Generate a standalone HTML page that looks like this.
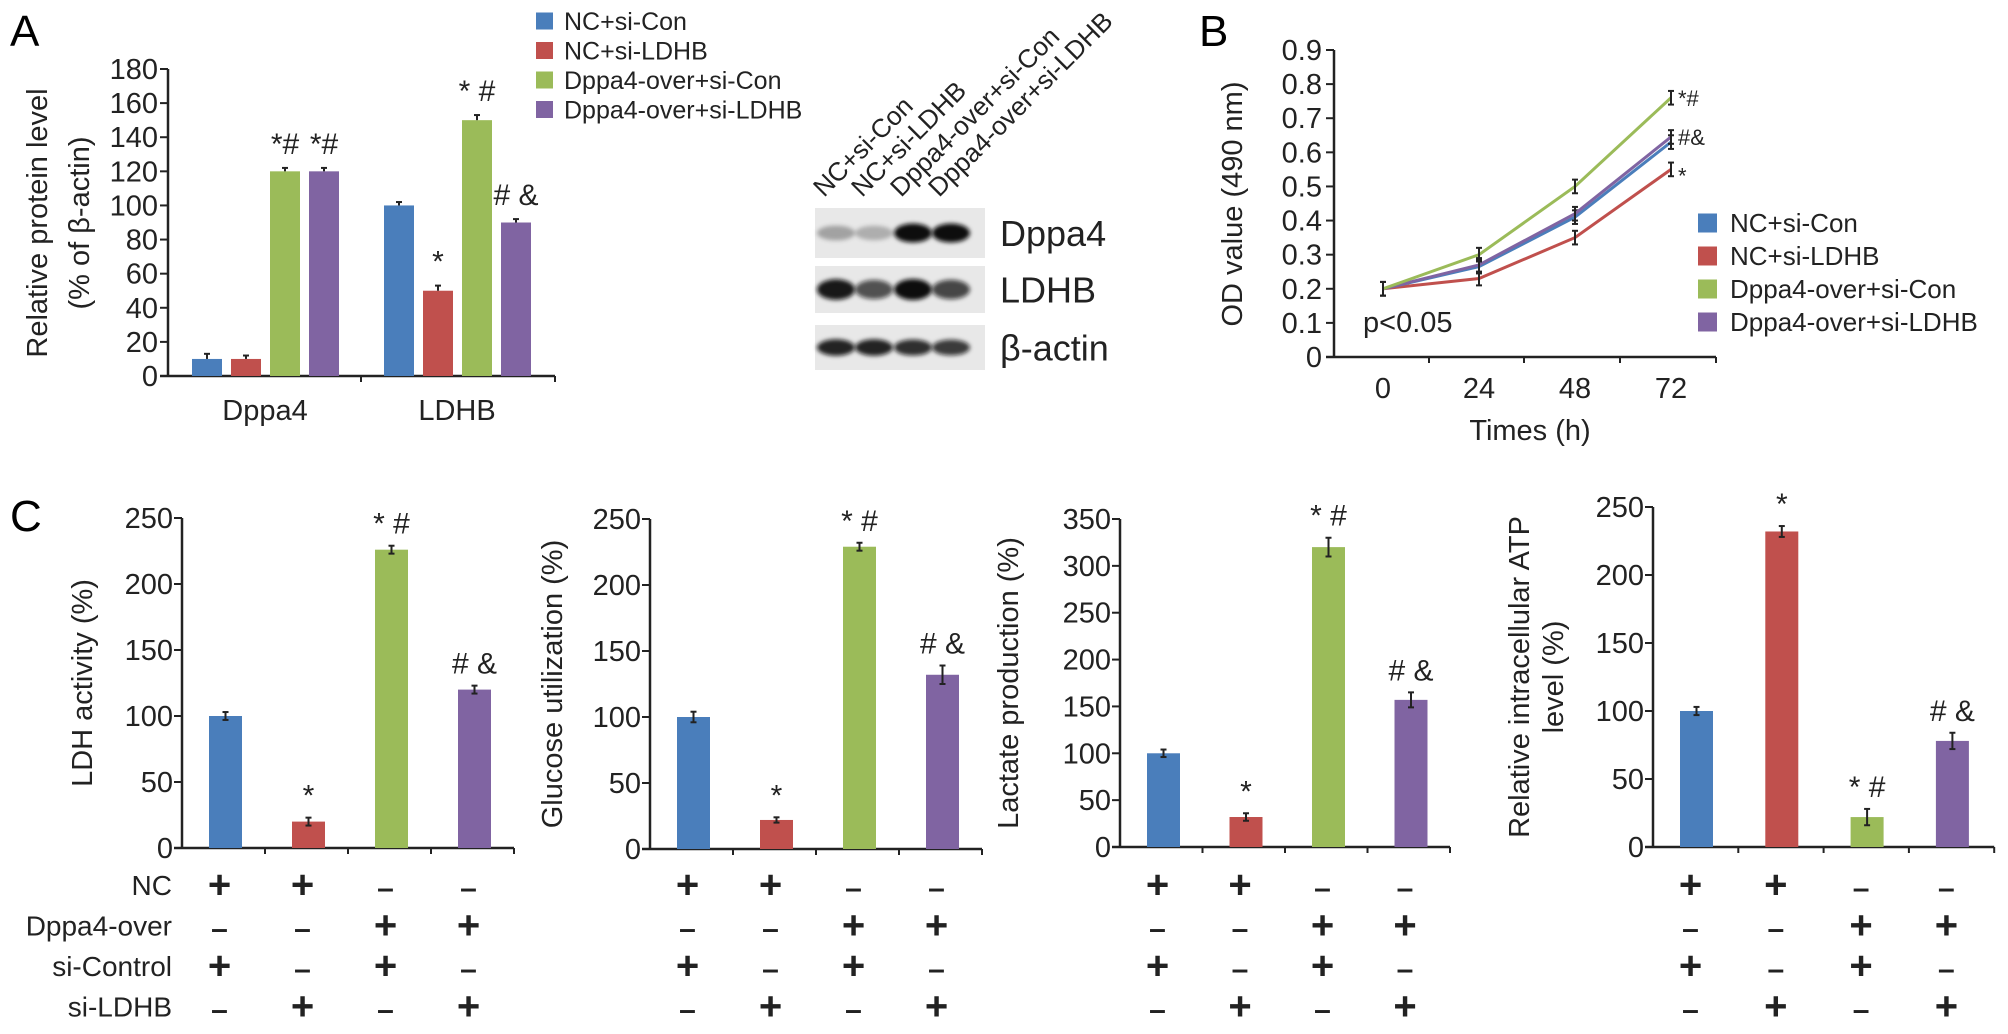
<!DOCTYPE html>
<html><head><meta charset="utf-8"><style>
html,body{margin:0;padding:0;background:#fff;}
svg{display:block;font-family:"Liberation Sans",Arial,sans-serif;}
</style></head><body>
<svg id="fig" width="2008" height="1034" viewBox="0 0 2008 1034" xmlns="http://www.w3.org/2000/svg">
<defs><filter id="blur" x="-20%" y="-50%" width="140%" height="200%"><feGaussianBlur stdDeviation="2.2"/></filter></defs>
</svg>
<script>
// ---------- DATA ----------
const colors = ["#4a7ebb","#c0504d","#9bbb59","#8064a2"];
const seriesNames = ["NC+si-Con","NC+si-LDHB","Dppa4-over+si-Con","Dppa4-over+si-LDHB"];
// Panel A
const aCategories = ["Dppa4","LDHB"];
const aDppa4 = [10,10,120,120];
const aLDHB = [100,50,150,90];
const aErrDppa4 = [3,2,2,2];
const aErrLDHB = [2,3,3,2];
const aTicks = [0,20,40,60,80,100,120,140,160,180];
const aMarksDppa4 = ["","","*#","*#"];
const aMarksLDHB = ["","*","* #","# &"];
// Panel B
const bTimes = [0,24,48,72];
const bBlue = [0.2,0.265,0.41,0.63];
const bRed = [0.2,0.23,0.35,0.55];
const bGreen = [0.2,0.30,0.50,0.76];
const bPurple = [0.2,0.27,0.42,0.645];
const bErr = [0.02,0.02,0.02,0.02];
const bTicks = [0,0.1,0.2,0.3,0.4,0.5,0.6,0.7,0.8,0.9];
const bEndMarks = ["*","*#","#&"];
// Panel C
const cLDH = [100,20,226,120];
const cLDHErr = [3,3,3,3];
const cGlucose = [100,22,229,132];
const cGlucoseErr = [4,2,3,7];
const cLactate = [100,32,320,157];
const cLactateErr = [4,4,10,8];
const cATP = [100,232,22,78];
const cATPErr = [3,4,6,6];
const cMarksLDH = ["","*","* #","# &"];
const cMarksGlucose = ["","*","* #","# &"];
const cMarksLactate = ["","*","* #","# &"];
const cMarksATP = ["","*","* #","# &"];
const cTicks250 = [0,50,100,150,200,250];
const cTicks350 = [0,50,100,150,200,250,300,350];
const rowLabels = ["NC","Dppa4-over","si-Control","si-LDHB"];
const rowSigns = [["+","+","-","-"],["-","-","+","+"],["+","-","+","-"],["-","+","-","+"]];
// Blot
const blotLanes = ["NC+si-Con","NC+si-LDHB","Dppa4-over+si-Con","Dppa4-over+si-LDHB"];
const blotProteins = ["Dppa4","LDHB","β-actin"];
const blotDppa4 = [0.3,0.25,1,1];
const blotLDHB = [0.95,0.7,1,0.75];
const blotActin = [0.9,0.9,0.85,0.8];

// ---------- HELPERS ----------
const svg = document.getElementById('fig');
const NS = "http://www.w3.org/2000/svg";
function mk(tag, attrs, parent){
  const e = document.createElementNS(NS, tag);
  for (const k in attrs) e.setAttribute(k, attrs[k]);
  (parent||svg).appendChild(e);
  return e;
}
function txt(s, attrs, parent){
  const e = mk('text', attrs, parent);
  e.textContent = s;
  return e;
}
function line(x1,y1,x2,y2,w,parent){
  return mk('line',{x1:x1,y1:y1,x2:x2,y2:y2,stroke:'#222','stroke-width':w||2},parent);
}

// ---------- PANEL A ----------
(function(){
  const g = mk('g',{});
  
  
  const lab = txt('A',{x:10,y:46,'font-size':44},g);
  
  
  const ax = 168, y0 = 376, yTop = 69, vmax = 180;
  const ys = v => y0 - v*(y0-yTop)/vmax;
  const yAxis = line(ax, yTop, ax, y0, 2.5, g);
  
  
  const xAxis = line(ax-8, y0, 555, y0, 2.5, g);
  
  
  line(361,y0,361,y0+6,2,g);
  line(555,y0,555,y0+6,2,g);
  aTicks.forEach(t=>{
    line(ax-8, ys(t), ax, ys(t), 2, g);
    const tl = txt(String(t),{x:ax-10,y:ys(t)+10,'font-size':29,'text-anchor':'end',fill:'#222'},g);
    
    
  });
  const t1 = txt('Relative protein level',{x:0,y:0,'font-size':29,'text-anchor':'middle',fill:'#222',transform:'translate(47,223) rotate(-90)'},g);
  
  
  const t2 = txt('(% of β-actin)',{x:0,y:0,'font-size':29,'text-anchor':'middle',fill:'#222',transform:'translate(89,223) rotate(-90)'},g);
  
  
  const groupStart = [192,384];
  const groups = [aDppa4, aLDHB];
  const errs = [aErrDppa4, aErrLDHB];
  const marks = [aMarksDppa4, aMarksLDHB];
  groups.forEach((vals,gi)=>{
    vals.forEach((v,i)=>{
      const x = groupStart[gi] + i*39, w = 30;
      const b = mk('rect',{x:x,y:ys(v),width:w,height:y0-ys(v),fill:colors[i]},g);
      
      
      const cx = x+w/2, e = errs[gi][i];
      line(cx, ys(v+e), cx, ys(v), 2, g);
      line(cx-3, ys(v+e), cx+3, ys(v+e), 2, g);
      if (marks[gi][i]) {
        const m = txt(marks[gi][i],{x:cx,y:ys(v+e)-14,'font-size':30,'text-anchor':'middle',fill:'#222'},g);
        
        
      }
    });
    const cl = txt(aCategories[gi],{x:groupStart[gi]+73,y:420,'font-size':29,'text-anchor':'middle',fill:'#222'},g);
    
    
  });
  seriesNames.forEach((n,i)=>{
    const cy = 21 + i*29.5;
    const sq = mk('rect',{x:536,y:cy-8.5,width:17,height:17,fill:colors[i]},g);
    
    
    const lt = txt(n,{x:564,y:cy+9,'font-size':25,fill:'#222'},g);
    
    
  });
})();

// ---------- WESTERN BLOT ----------
(function(){
  const g = mk('g',{});
  
  
  const laneX = [836,874,913,951];
  blotLanes.forEach((n,i)=>{
    const t = txt(n,{x:0,y:0,'font-size':26,fill:'#222',transform:'translate('+(laneX[i]-12)+',198) rotate(-45)'},g);
    
    
  });
  const rows = [[208,50],[266,47],[325,45]];
  const intens = [blotDppa4, blotLDHB, blotActin];
  const bandH = [13,15,11];
  rows.forEach((r,ri)=>{
    const bg = mk('rect',{x:815,y:r[0],width:170,height:r[1],fill:'#e8e8e8'},g);
    
    
    intens[ri].forEach((v,i)=>{
      const band = mk('ellipse',{cx:laneX[i],cy:r[0]+r[1]/2,rx:19,ry:bandH[ri]/2+v*3,fill:'#111','fill-opacity':Math.min(1,v),filter:'url(#blur)'},g);
      
      
    });
    const pl = txt(blotProteins[ri],{x:1000,y:r[0]+r[1]/2+13,'font-size':36,fill:'#222'},g);
    
    
  });
})();

// ---------- PANEL B ----------
(function(){
  const g = mk('g',{});
  
  
  const lab = txt('B',{x:1199,y:46,'font-size':44},g);
  
  
  const ax = 1334, y0 = 357, yTop = 50;
  const ys = v => y0 - v*(y0-yTop)/0.9;
  const xs = t => 1383 + t*(1671-1383)/72;
  const ya = line(ax,yTop,ax,y0,2.5,g);
  
  
  const xa = line(ax-8,y0,1716,y0,2.5,g);
  
  
  [1429,1524,1620,1716].forEach(x=>line(x,y0,x,y0+6,2,g));
  bTicks.forEach(t=>{
    line(ax-8,ys(t),ax,ys(t),2,g);
    const tl = txt(t===0?'0':t.toFixed(1),{x:ax-12,y:ys(t)+10,'font-size':29,'text-anchor':'end',fill:'#222'},g);
    
    
  });
  bTimes.forEach(t=>{
    const tl = txt(String(t),{x:xs(t),y:398,'font-size':29,'text-anchor':'middle',fill:'#222'},g);
    
    
  });
  const xt = txt('Times (h)',{x:1530,y:440,'font-size':29,'text-anchor':'middle',fill:'#222'},g);
  
  
  const yt = txt('OD value (490 nm)',{x:0,y:0,'font-size':29,'text-anchor':'middle',fill:'#222',transform:'translate(1242,204) rotate(-90)'},g);
  
  
  const pv = txt('p<0.05',{x:1363,y:332,'font-size':29,fill:'#222'},g);
  
  
  const series = [bRed,bBlue,bPurple,bGreen];
  const cidx = [1,0,3,2];
  series.forEach((s,si)=>{
    const pts = s.map((v,i)=>xs(bTimes[i])+','+ys(v)).join(' ');
    const pl = mk('polyline',{points:pts,fill:'none',stroke:colors[cidx[si]],'stroke-width':3},g);
    
    
    s.forEach((v,i)=>{
      const x = xs(bTimes[i]), e = bErr[i];
      line(x,ys(v+e),x,ys(v-e),2,g);
      line(x-3,ys(v+e),x+3,ys(v+e),2,g);
      line(x-3,ys(v-e),x+3,ys(v-e),2,g);
    });
  });
  const endVals = [bRed[3],bGreen[3],bPurple[3]];
  endVals.forEach((v,i)=>{
    const m = txt(bEndMarks[i],{x:1678,y:ys(v)+(i===0?14:8),'font-size':22,fill:'#222'},g);
    
    
  });
  seriesNames.forEach((n,i)=>{
    const cy = 223 + i*33;
    const sq = mk('rect',{x:1698,y:cy-9.5,width:19,height:19,fill:colors[i]},g);
    
    
    const lt = txt(n,{x:1730,y:cy+9,'font-size':26,fill:'#222'},g);
    
    
  });
})();

// ---------- PANEL C ----------
const cLab = txt('C',{x:10,y:531,'font-size':44});


function cPanel(name, vals, errs, marks, ticks, vmax, ax, y0, yTop, step, titles, titleX){
  const g = mk('g',{});
  
  
  const ys = v => y0 - v*(y0-yTop)/vmax;
  const end = ax + 4*step;
  const ya = line(ax,yTop,ax,y0,2.5,g);
  
  
  const xa = line(ax-8,y0,end,y0,2.5,g);
  
  
  for (let i=1;i<=4;i++) line(ax+i*step,y0,ax+i*step,y0+6,2,g);
  ticks.forEach(t=>{
    line(ax-8,ys(t),ax,ys(t),2,g);
    const tl = txt(String(t),{x:ax-9,y:ys(t)+10,'font-size':29,'text-anchor':'end',fill:'#222'},g);
    
    
  });
  const midY = (y0+yTop)/2;
  titles.forEach((t,i)=>{
    const tt = txt(t,{x:0,y:0,'font-size':29,'text-anchor':'middle',fill:'#222',transform:'translate('+(titleX+i*34)+','+midY+') rotate(-90)'},g);
    
    
  });
  vals.forEach((v,i)=>{
    const x = ax + 27 + i*step, w = 33, cx = x + w/2;
    const b = mk('rect',{x:x,y:ys(v),width:w,height:y0-ys(v),fill:colors[i]},g);
    
    
    const e = errs[i];
    line(cx,ys(v+e),cx,ys(v-e),2,g);
    line(cx-3,ys(v+e),cx+3,ys(v+e),2,g);
    line(cx-3,ys(v-e),cx+3,ys(v-e),2,g);
    if (marks[i]) {
      const m = txt(marks[i],{x:cx,y:ys(v+e)-12,'font-size':30,'text-anchor':'middle',fill:'#222'},g);
      
      
    }
    rowSigns.forEach((row,ri)=>{
      const s = txt(row[i]==='+'?'+':'–',{x:cx-6,y:898+ri*40.5,'font-size':row[i]==='+'?40:30,'font-weight':'bold','text-anchor':'middle',fill:'#222'},g);
      
      
    });
  });
}
cPanel('ldh', cLDH, cLDHErr, cMarksLDH, cTicks250, 250, 182, 848, 518, 83, ['LDH activity (%)'], 92);
cPanel('glucose', cGlucose, cGlucoseErr, cMarksGlucose, cTicks250, 250, 650, 849, 519, 83, ['Glucose utilization (%)'], 562);
cPanel('lactate', cLactate, cLactateErr, cMarksLactate, cTicks350, 350, 1120, 847, 519, 82.5, ['Lactate production (%)'], 1018);
cPanel('atp', cATP, cATPErr, cMarksATP, cTicks250, 250, 1653, 847, 507, 85.3, ['Relative intracellular ATP','level (%)'], 1529);
rowLabels.forEach((r,ri)=>{
  const t = txt(r,{x:172,y:895+ri*40.5,'font-size':28,'text-anchor':'end',fill:'#222'});
  
  
});
</script>
</body></html>
